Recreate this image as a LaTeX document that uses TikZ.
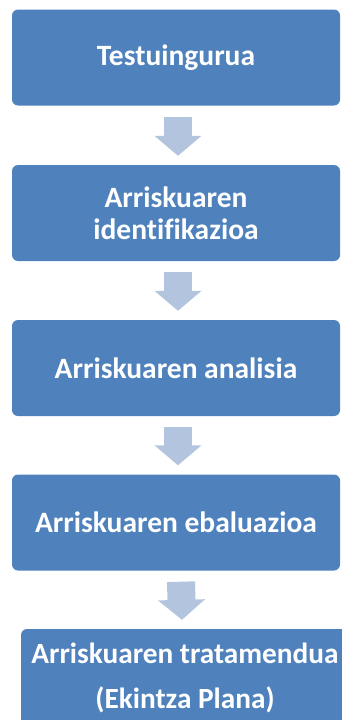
\documentclass[tikz,border=0pt]{standalone}
\usepackage{fontspec}
\setmainfont{Carlito}[Ligatures=NoCommon]
\usepackage{tikz}
\usetikzlibrary{arrows.meta,positioning}
\definecolor{stageblue}{HTML}{4F81BD}
\definecolor{flowblue}{HTML}{B3C4DE}

\begin{document}
\begin{tikzpicture}[x=1pt, y=1pt,
        stage/.style={rectangle, rounded corners=6pt, fill=stageblue, text=white, minimum width=328pt, minimum height=96pt, align=center, inner sep=0pt, font=\bfseries\fontsize{29.5}{32}\selectfont},
        flow/.style={draw=flowblue, line width=28pt, -{Triangle[width=46pt, length=20pt]}}
    ]
        \useasboundingbox (0,0) rectangle (342,-720);
        \node[stage] (t1) at (176,-57.5) {Testuingurua};
        \node[stage] (t2) at (176,-213) {Arriskuaren\\identifikazioa};
        \node[stage] (t3) at (176,-368) {Arriskuaren analisia};
        \node[stage] (t4) at (176,-522.5) {Arriskuaren ebaluazioa};
        \node[stage, minimum height=98pt, font=\bfseries\fontsize{29.3}{45}\selectfont] (t5) at (185,-678) {Arriskuaren tratamendua\\(Ekintza Plana)};

        \draw[flow] ([xshift=2pt, yshift=-11pt]t1.south) -- ([xshift=2pt, yshift=9pt]t2.north);
        \draw[flow] ([xshift=2pt, yshift=-11pt]t2.south) -- ([xshift=2pt, yshift=9pt]t3.north);
        \draw[flow] ([xshift=2pt, yshift=-11pt]t3.south) -- ([xshift=2pt, yshift=9pt]t4.north);
        \draw[flow] ([xshift=5pt, yshift=-11pt]t4.south) -- ([xshift=-3pt, yshift=9pt]t5.north);
    \end{tikzpicture}
\end{document}
